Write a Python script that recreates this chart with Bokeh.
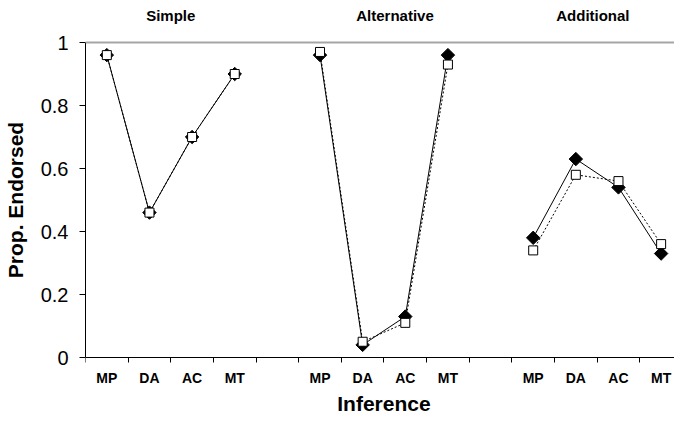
import math
from bokeh.plotting import figure
from bokeh.models import FixedTicker, Span, LinearAxis, Range1d
from bokeh.embed import file_html
from bokeh.resources import INLINE

# ---- data ----
inferences = ["MP", "DA", "AC", "MT"]
conditions = ["Simple", "Alternative", "Additional"]
series_a = {  # filled diamonds, solid line
    "Simple": [0.96, 0.46, 0.70, 0.90],
    "Alternative": [0.96, 0.04, 0.13, 0.96],
    "Additional": [0.38, 0.63, 0.54, 0.33],
}
series_b = {  # open squares, dotted line
    "Simple": [0.96, 0.46, 0.70, 0.90],
    "Alternative": [0.97, 0.05, 0.11, 0.93],
    "Additional": [0.34, 0.58, 0.56, 0.36],
}
y_ticks = [0, 0.2, 0.4, 0.6, 0.8, 1.0]
y_tick_labels = ["0", "0.2", "0.4", "0.6", "0.8", "1"]
x_title = "Inference"
y_title = "Prop. Endorsed"

FONT = "Liberation Sans"
GAP = 1  # empty slot between condition groups
n_slots = len(conditions) * (len(inferences) + GAP) - GAP

W, H = 674, 420
LEFT_PX = 80
SLOT_PX = 43
TOP_PX, BOTTOM_PX = 42, 63            # room for titles / category labels
PX_PER_UNIT = H - TOP_PX - BOTTOM_PX  # value axis 0..1
p = figure(width=W, height=H, output_backend="svg", toolbar_location=None,
           x_range=Range1d(-0.5, -0.5 + (W - LEFT_PX) / SLOT_PX),
           y_range=Range1d(-BOTTOM_PX / PX_PER_UNIT, 1 + TOP_PX / PX_PER_UNIT),
           min_border_left=LEFT_PX, min_border_right=0, min_border_top=0,
           min_border_bottom=0)
p.outline_line_color = None
p.xgrid.grid_line_color = None
p.ygrid.grid_line_color = None
p.background_fill_color = "white"

# x positions
centers = []
labels = {}
for c, cond in enumerate(conditions):
    for i, inf in enumerate(inferences):
        x = c * (len(inferences) + GAP) + i
        centers.append(x)
        labels[x] = inf

# lines + markers
for c, cond in enumerate(conditions):
    xs = [c * (len(inferences) + GAP) + i for i in range(len(inferences))]
    p.line(xs, series_b[cond], line_color="black", line_width=1, line_dash="2 2")
    p.line(xs, series_a[cond], line_color="black", line_width=1)
for c, cond in enumerate(conditions):
    xs = [c * (len(inferences) + GAP) + i for i in range(len(inferences))]
    p.scatter(xs, series_a[cond], marker="square", angle=math.pi / 4, size=9.5,
              fill_color="black", line_color="black", line_width=1)
for c, cond in enumerate(conditions):
    xs = [c * (len(inferences) + GAP) + i for i in range(len(inferences))]
    p.scatter(xs, series_b[cond], marker="square", size=9,
              fill_color="white", line_color="black", line_width=1)

# top reference line
p.add_layout(Span(location=1, dimension="width", line_color="#a6a6a6", line_width=2))

# x axis (inference categories)
xa = p.xaxis[0]
xa.fixed_location = 0
xa.ticker = FixedTicker(ticks=centers,
                        minor_ticks=[k - 0.5 for k in range(n_slots)])
xa.major_label_overrides = labels
xa.major_tick_out = 0
xa.major_tick_in = 0
xa.minor_tick_out = 5
xa.minor_tick_in = 0
xa.minor_tick_line_color = "black"
xa.axis_line_color = "black"
xa.major_label_text_font = FONT
xa.major_label_text_font_style = "bold"
xa.major_label_text_font_size = "14px"
xa.major_label_text_color = "black"
xa.major_label_standoff = 7

# x-axis title, centred on the full slot span
mid = (n_slots - 1) / 2
xt = LinearAxis(ticker=FixedTicker(ticks=[mid]), major_label_overrides={mid: x_title},
                fixed_location=0)
xt.axis_line_color = None
xt.major_tick_line_color = None
xt.minor_tick_line_color = None
xt.major_label_text_font = FONT
xt.major_label_text_font_style = "bold"
xt.major_label_text_font_size = "21px"
xt.major_label_text_color = "black"
xt.major_label_standoff = 28
p.add_layout(xt, "below")

# panel titles
title_x = [1.5, 6.76, 11.4]
ta = LinearAxis(ticker=FixedTicker(ticks=title_x),
                major_label_overrides={tx: cond for tx, cond in zip(title_x, conditions)},
                fixed_location=1)
ta.axis_line_color = None
ta.major_tick_line_color = None
ta.minor_tick_line_color = None
ta.major_label_text_font = FONT
ta.major_label_text_font_style = "bold"
ta.major_label_text_font_size = "15px"
ta.major_label_text_color = "black"
ta.major_label_standoff = 13
p.add_layout(ta, "above")

# y axis
ya = p.yaxis[0]
ya.bounds = (0, 1)
ya.ticker = FixedTicker(ticks=y_ticks)
ya.major_label_overrides = {t: s for t, s in zip(y_ticks, y_tick_labels)}
ya.major_tick_out = 6
ya.major_tick_in = 0
ya.minor_tick_out = 0
ya.minor_tick_in = 0
ya.axis_line_color = "black"
ya.major_label_text_font = FONT
ya.major_label_text_font_size = "20px"
ya.major_label_text_color = "black"
ya.major_label_standoff = 11

# y-axis title, centred on the 0..1 value span
ymid = (y_ticks[0] + y_ticks[-1]) / 2
yt = LinearAxis(ticker=FixedTicker(ticks=[ymid]), major_label_overrides={ymid: y_title},
                major_label_orientation="vertical")
yt.axis_line_color = None
yt.major_tick_line_color = None
yt.minor_tick_line_color = None
yt.major_label_text_font = FONT
yt.major_label_text_font_style = "bold"
yt.major_label_text_font_size = "21px"
yt.major_label_text_color = "black"
yt.major_label_standoff = 5
p.add_layout(yt, "left")

open("out.html", "w").write(file_html(p, INLINE))
